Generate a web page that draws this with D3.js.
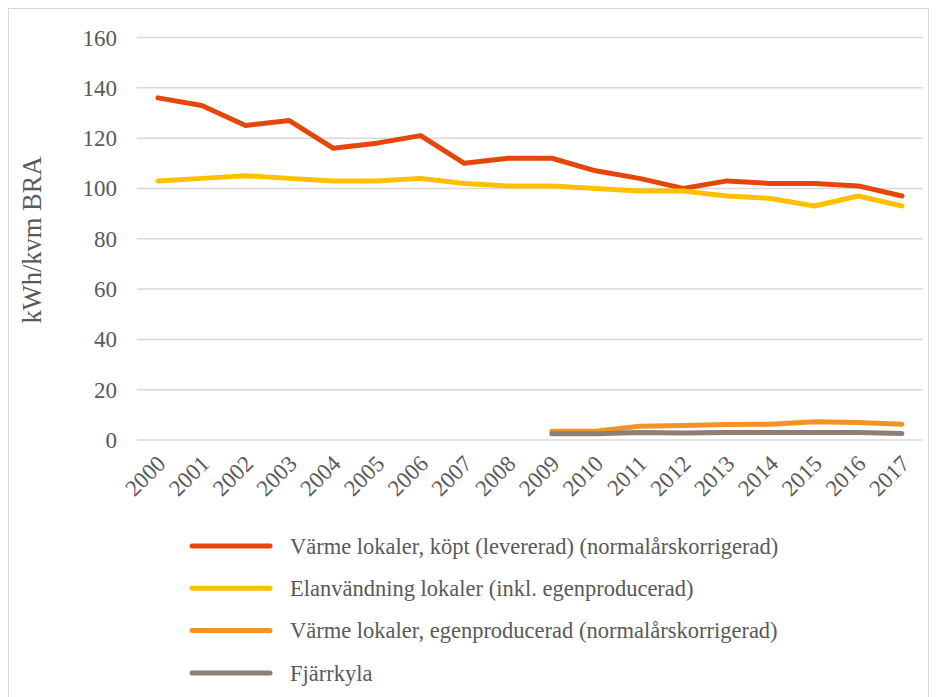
<!DOCTYPE html>
<html lang="sv">
<head>
<meta charset="UTF-8">
<title>kWh/kvm BRA</title>
<style>
  body { margin: 0; background: #fff; }
  text { font-family: "Liberation Serif", "Times New Roman", serif; fill: #595959; }
  .grid line { stroke: #d9d9d9; stroke-width: 1.5; }
  .series { fill: none; stroke-width: 5; stroke-linecap: round; stroke-linejoin: round; }
</style>
</head>
<body>
<div id="chart"></div>
<script src="https://d3js.org/d3.v7.min.js"></script>
<script>
  const years = ["2000","2001","2002","2003","2004","2005","2006","2007","2008",
                 "2009","2010","2011","2012","2013","2014","2015","2016","2017"];
  const laterYears = years.slice(9);

  const varmeKopt = [136,133,125,127,116,118,121,110,112,112,107,104,100,103,102,102,101,97];
  const elanvandning = [103,104,105,104,103,103,104,102,101,101,100,99,99,97,96,93,97,93];
  const varmeEgen = [3.5,3.5,5.5,5.8,6.2,6.3,7.3,7.0,6.3];
  const fjarrkyla = [2.5,2.5,3.0,2.8,3.0,3.0,3.0,3.0,2.6];
  const yTicks = [0,20,40,60,80,100,120,140,160];

  const series = [
    { name: "Värme lokaler, köpt (levererad) (normalårskorrigerad)", x: years, v: varmeKopt, color: "#e5470b" },
    { name: "Elanvändning lokaler (inkl. egenproducerad)", x: years, v: elanvandning, color: "#ffc000" },
    { name: "Värme lokaler, egenproducerad (normalårskorrigerad)", x: laterYears, v: varmeEgen, color: "#f39325" },
    { name: "Fjärrkyla", x: laterYears, v: fjarrkyla, color: "#8c7f78" }
  ];

  const width = 936, height = 697;
  const svg = d3.select("#chart").append("svg")
    .attr("width", width).attr("height", height);

  svg.append("rect")
    .attr("x", 8.5).attr("y", 8.5)
    .attr("width", 920).attr("height", 700)
    .attr("fill", "none").attr("stroke", "#d9d9d9").attr("stroke-width", 1);

  const x = d3.scalePoint().domain(years).range([158, 902]);
  const y = d3.scaleLinear().domain([0, 160]).range([440, 37.5]);

  // horizontal gridlines
  svg.append("g").attr("class", "grid")
    .selectAll("line").data(yTicks).join("line")
    .attr("x1", 137).attr("x2", 923)
    .attr("y1", d => y(d)).attr("y2", d => y(d));

  // y tick labels
  svg.append("g").selectAll("text").data(yTicks).join("text")
    .attr("x", 117).attr("y", d => y(d))
    .attr("dy", "0.35em")
    .attr("text-anchor", "end")
    .attr("font-size", 23)
    .text(d => d);

  // x tick labels, rotated
  svg.append("g").selectAll("text").data(years).join("text")
    .attr("transform", d => `translate(${x(d) + 9},${465}) rotate(-45)`)
    .attr("text-anchor", "end")
    .attr("font-size", 23)
    .text(d => d);

  // y axis title
  svg.append("text")
    .attr("transform", "translate(41,240) rotate(-90)")
    .attr("text-anchor", "middle")
    .attr("font-size", 26.5)
    .text("kWh/kvm BRA");

  const line = d3.line().x(d => x(d[0])).y(d => y(d[1]));

  svg.append("g").selectAll("path").data(series).join("path")
    .attr("class", "series")
    .attr("stroke", d => d.color)
    .attr("d", d => line(d.x.map((yr, i) => [yr, d.v[i]])));

  // legend
  const legend = svg.append("g").selectAll("g").data(series).join("g")
    .attr("transform", (d, i) => `translate(0,${546 + i * 42.3})`);
  legend.append("line")
    .attr("x1", 192).attr("x2", 270)
    .attr("stroke", d => d.color).attr("stroke-width", 5)
    .attr("stroke-linecap", "round");
  legend.append("text")
    .attr("x", 290).attr("dy", "0.35em")
    .attr("font-size", 22.5)
    .text(d => d.name);
</script>
</body>
</html>
